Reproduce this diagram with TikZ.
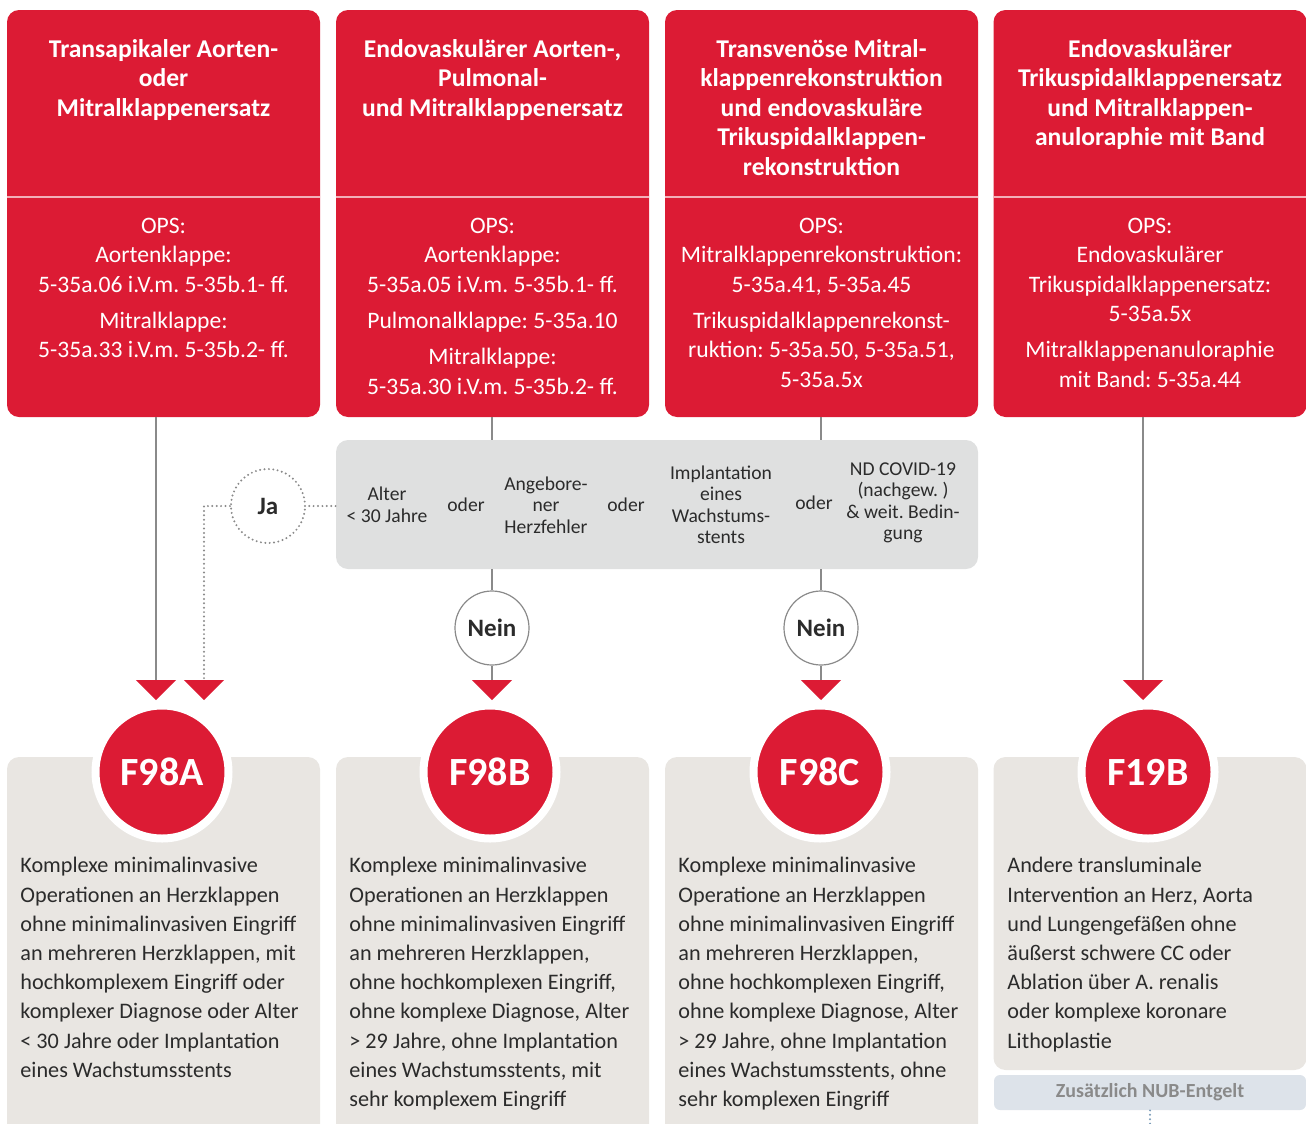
\documentclass[tikz,border=0pt]{standalone}
\usepackage{fontspec}
\setmainfont{Carlito}
\frenchspacing
\usetikzlibrary{arrows.meta, positioning}
\definecolor{drgred}{HTML}{DC1B34}
\definecolor{condgrey}{HTML}{DFE0E0}
\definecolor{descgrey}{HTML}{E9E6E2}
\definecolor{linegrey}{HTML}{8A8A8A}
\definecolor{textdark}{HTML}{2B2B2B}
\definecolor{nubgrey}{HTML}{DDE3EA}
\definecolor{nubdot}{HTML}{7C9CB8}

\begin{document}
\begin{tikzpicture}[x=0.5pt, y=-0.5pt,
  every node/.style={align=center},
  redbox/.style={fill=drgred, rounded corners=6pt, minimum width=156.5pt, minimum height=203.5pt, inner sep=0pt},
  titletext/.style={anchor=north, text=white, font=\bfseries\fontsize{12.8}{14.75}\selectfont},
  opstext/.style={anchor=north, text=white, font=\fontsize{11.8}{14.75}\selectfont},
  divline/.style={draw=white!65!drgred, line width=0.6pt},
  condbar/.style={fill=condgrey, rounded corners=6pt, minimum width=321pt, minimum height=64.5pt, inner sep=0pt},
  condtext/.style={text=textdark, font=\fontsize{9.8}{10.75}\selectfont, inner sep=0pt},
  conn/.style={draw=linegrey, line width=0.6pt},
  dotline/.style={draw=linegrey, line width=1.1pt, dash pattern=on 0pt off 2.2pt, line cap=round},
  redtip/.style={-{Triangle[width=20pt, length=10pt, color=drgred, fill=drgred]}},
  answer/.style={circle, fill=white, minimum size=37pt, inner sep=0pt, text=textdark, font=\bfseries\fontsize{12.5}{12.5}\selectfont},
  descbox/.style={fill=descgrey, rounded corners=6pt, minimum width=156.5pt, inner sep=0pt},
  codecircle/.style={circle, fill=drgred, draw=white, line width=4pt, minimum size=66.5pt, inner sep=0pt, text=white, font=\bfseries\fontsize{20}{20}\selectfont},
  desctext/.style={anchor=north west, align=left, text=textdark, font=\fontsize{11.1}{14.6}\selectfont, inner sep=0pt},
  nubbar/.style={fill=nubgrey, rounded corners=3pt, minimum width=156pt, minimum height=17.5pt, inner sep=0pt, text=linegrey, font=\bfseries\fontsize{10}{10}\selectfont}
]
  \useasboundingbox (0,0) rectangle (1306,1124);
  \clip (0,0) rectangle (1306,1124);

  \node[redbox] (tapi) at (163.5,213.5) {};
  \node[redbox] (endo) at (492.5,213.5) {};
  \node[redbox] (trans) at (821.5,213.5) {};
  \node[redbox] (trik) at (1150,213.5) {};
  \foreach \x in {7,336,665,994}
    \draw[divline] (\x,197) -- ++(313,0);

  \node[titletext] (tapiT) at (163.5,32) {Transapikaler Aorten-\\oder\\Mitralklappenersatz};
  \node[titletext] (endoT) at (492.5,32) {Endovaskulärer Aorten-,\\Pulmonal-\\und Mitralklappenersatz};
  \node[titletext] (transT) at (821.5,32) {Transvenöse Mitral-\\klappenrekonstruktion\\und endovaskuläre\\Trikuspidalklappen-\\rekonstruktion};
  \node[titletext] (trikT) at (1150,32) {Endovaskulärer\\Trikuspidalklappenersatz\\und Mitralklappen-\\anuloraphie mit Band};

  \node[opstext] (tapiO) at (163.5,211) {OPS:\\Aortenklappe:\\5-35a.06 i.V.m. 5-35b.1- ff.\\[3.3pt]Mitralklappe:\\5-35a.33 i.V.m. 5-35b.2- ff.};
  \node[opstext] (endoO) at (492.5,211) {OPS:\\Aortenklappe:\\5-35a.05 i.V.m. 5-35b.1- ff.\\[3.3pt]Pulmonalklappe: 5-35a.10\\[3.3pt]Mitralklappe:\\5-35a.30 i.V.m. 5-35b.2- ff.};
  \node[opstext] (transO) at (821.5,211) {OPS:\\Mitralklappenrekonstruktion:\\5-35a.41, 5-35a.45\\[3.3pt]Trikuspidalklappenrekonst-\\ruktion: 5-35a.50, 5-35a.51,\\5-35a.5x};
  \node[opstext] (trikO) at (1150,211) {OPS:\\Endovaskulärer\\Trikuspidalklappenersatz:\\5-35a.5x\\[3.3pt]Mitralklappenanuloraphie\\mit Band: 5-35a.44};

  \node[condbar] (cond) at (657,504.5) {};
  \node[condtext] (alter) at (387,505) {Alter\\< 30 Jahre};
  \node[condtext] (oder1) at (466,505) {oder};
  \node[condtext] (herz) at (546,505) {Angebore-\\ner\\Herzfehler};
  \node[condtext] (oder2) at (626,505) {oder};
  \node[condtext] (stent) at (721,505) {Implantation\\eines\\Wachstums-\\stents};
  \node[condtext] (oder3) at (814,503) {oder};
  \node[condtext] (covid) at (903,503) {ND COVID-19\\(nachgew. )\\\& weit. Bedin-\\gung};

  \node[answer, dotline] (ja) at (268,506) {Ja};
  \node[answer, conn] (neinB) at (492,628) {Nein};
  \node[answer, conn] (neinC) at (821,628) {Nein};

  \coordinate (tipA1) at (156,700);
  \coordinate (tipA2) at (204,700);
  \coordinate (tipB) at (492,700);
  \coordinate (tipC) at (821,700);
  \coordinate (tipD) at (1143,700);

  \node[descbox, minimum height=191.5pt] (descA) at (163.5,948.5) {};
  \node[descbox, minimum height=191.5pt] (descB) at (492.5,948.5) {};
  \node[descbox, minimum height=191.5pt] (descC) at (821.5,948.5) {};
  \node[descbox, minimum height=156.5pt] (descD) at (1150,913.5) {};

  \draw[conn, redtip] (tapi.south -| tipA1) -- (tipA1);
  \draw[conn] (endo.south -| tipB) -- (cond.north -| tipB);
  \draw[conn] (trans.south -| tipC) -- (cond.north -| tipC);
  \draw[conn] (cond.south -| neinB) -- (neinB);
  \draw[conn] (cond.south -| neinC) -- (neinC);
  \draw[conn, redtip] (neinB) -- (tipB);
  \draw[conn, redtip] (neinC) -- (tipC);
  \draw[conn, redtip] (trik.south -| tipD) -- (tipD);
  \draw[dotline] (cond.west |- ja) -- (ja);
  \draw[dotline, redtip] (ja) -| (tipA2);

  \node[codecircle] (f98a) at (162,772) {F98A};
  \node[codecircle] (f98b) at (490,772) {F98B};
  \node[codecircle] (f98c) at (820,772) {F98C};
  \node[codecircle] (f19b) at (1148,772) {F19B};

  \node[desctext] (textA) at (20,857) {Komplexe minimalinvasive\\Operationen an Herzklappen\\ohne minimalinvasiven Eingriff\\an mehreren Herzklappen, mit\\hochkomplexem Eingriff oder\\komplexer Diagnose oder Alter\\< 30 Jahre oder Implantation\\eines Wachstumsstents};
  \node[desctext] (textB) at (349,857) {Komplexe minimalinvasive\\Operationen an Herzklappen\\ohne minimalinvasiven Eingriff\\an mehreren Herzklappen,\\ohne hochkomplexen Eingriff,\\ohne komplexe Diagnose, Alter\\> 29 Jahre, ohne Implantation\\eines Wachstumsstents, mit\\sehr komplexem Eingriff};
  \node[desctext] (textC) at (678,857) {Komplexe minimalinvasive\\Operatione an Herzklappen\\ohne minimalinvasiven Eingriff\\an mehreren Herzklappen,\\ohne hochkomplexen Eingriff,\\ohne komplexe Diagnose, Alter\\> 29 Jahre, ohne Implantation\\eines Wachstumsstents, ohne\\sehr komplexen Eingriff};
  \node[desctext] (textD) at (1007,857) {Andere transluminale\\Intervention an Herz, Aorta\\und Lungengefäßen ohne\\äußerst schwere CC oder\\Ablation über A. renalis\\oder komplexe koronare\\Lithoplastie};

  \node[nubbar] (nub) at (1150,1092.5) {Zusätzlich NUB-Entgelt};
  \coordinate (nubend) at (1150,1130);
  \draw[dotline, draw=nubdot] (nub.south) -- (nubend);
\end{tikzpicture}
\end{document}
